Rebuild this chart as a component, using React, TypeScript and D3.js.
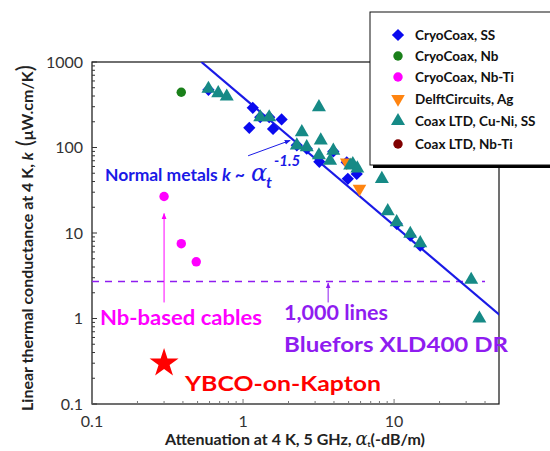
import { useEffect, useRef } from 'react';
import * as d3 from 'd3';

// CryoCoax, SS
const ssAtt = [0.59, 1.1, 1.16, 1.3, 1.49, 1.58, 1.8, 2.27, 2.64, 3.2, 3.96, 4.86, 4.94, 5.66, 10.4, 12.8, 14.9];
const ssK = [473, 170, 291, 226, 226, 165, 213, 106, 97, 68, 90, 67, 43, 49, 12.8, 9.3, 7.1];
// CryoCoax, Nb
const nbAtt = [0.39];
const nbK = [443];
// CryoCoax, Nb-Ti
const nbtiAtt = [0.3, 0.39, 0.49];
const nbtiK = [26.7, 7.5, 4.6];
// DelftCircuits, Ag
const agAtt = [4.86, 5.9];
const agK = [67, 33];
// Coax LTD, Cu-Ni, SS
const cuniAtt = [0.59, 0.685, 0.78, 1.3, 1.49, 2.45, 2.27, 2.64, 3.18, 3.27, 3.18, 3.77, 3.96, 5.12, 5.33, 5.71, 8.3, 9.08, 10.4, 12.8, 14.9, 32.4, 36.7];
const cuniK = [486, 432, 395, 226, 226, 151, 106, 101, 296, 121, 81, 70, 92, 61.5, 64, 57, 43, 18, 13.4, 9.8, 7.6, 2.84, 1.0];
// Coax LTD, Nb-Ti
const ltdNbtiAtt: number[] = [];
const ltdNbtiK: number[] = [];
// YBCO-on-Kapton
const ybcoAtt = [0.3];
const ybcoK = [0.3];
// normal metals k ~ a^-1.5 (end points)
const fitAtt = [0.53, 50];
const fitK = [1000, 1.1];
// 1,000 lines Bluefors limit
const limitAtt = [0.1, 40];
const limitK = [2.7, 2.7];

const xTicks = [0.1, 1, 10];
const yTicks = [0.1, 1, 10, 100, 1000];
const legendLabels = ['CryoCoax, SS', 'CryoCoax, Nb', 'CryoCoax, Nb-Ti', 'DelftCircuits, Ag', 'Coax LTD, Cu-Ni, SS', 'Coax LTD, Nb-Ti'];

const FONT = 'Lato, "Open Sans", sans-serif';

export default function App() {
  const svgRef = useRef<SVGSVGElement>(null);

  useEffect(() => {
    if (!svgRef.current) return;
    const svg = d3.select(svgRef.current);
    svg.selectAll('*').remove();

    const left = 92, right = 499, top = 62, bottom = 404;
    const x = d3.scaleLog().domain([0.1, 49.5]).range([left, right]);
    const y = d3.scaleLog().domain([0.1, 1000]).range([bottom, top]);

    const defs = svg.append('defs');
    defs.append('clipPath').attr('id', 'plot-clip')
      .append('rect').attr('x', left).attr('y', top).attr('width', right - left).attr('height', bottom - top);
    const mk = (id: string, color: string) => {
      defs.append('marker').attr('id', id)
        .attr('viewBox', '0 0 10 10').attr('refX', 9).attr('refY', 5)
        .attr('markerWidth', 6).attr('markerHeight', 6).attr('orient', 'auto')
        .append('path').attr('d', 'M0,1 L10,5 L0,9 Z').attr('fill', color);
    };
    mk('arr-blue', '#1a1ae6');
    mk('arr-mag', '#ff00ff');
    mk('arr-pur', '#8f1cf0');

    // frame
    svg.append('rect').attr('x', left).attr('y', top).attr('width', right - left).attr('height', bottom - top)
      .attr('fill', 'none').attr('stroke', '#111').attr('stroke-width', 1.2);

    // y ticks (inward)
    const yMinor = y.ticks().filter(v => !yTicks.some(t => Math.abs(t - v) < 1e-9));
    svg.append('g').selectAll('line').data(yMinor).enter().append('line')
      .attr('x1', left).attr('x2', left + 3).attr('y1', d => y(d)).attr('y2', d => y(d))
      .attr('stroke', '#333').attr('stroke-width', 1);
    svg.append('g').selectAll('line').data(yTicks).enter().append('line')
      .attr('x1', left).attr('x2', left + 5).attr('y1', d => y(d)).attr('y2', d => y(d))
      .attr('stroke', '#333').attr('stroke-width', 1);
    svg.append('g').selectAll('text').data(yTicks).enter().append('text')
      .attr('x', left - 9).attr('y', d => y(d)).attr('dy', '0.35em')
      .attr('text-anchor', 'end').attr('font-family', FONT).attr('font-size', 16).attr('fill', '#333')
      .text(d => String(d));

    // x ticks (inward)
    const xMinor = x.ticks().filter(v => !xTicks.some(t => Math.abs(t - v) < 1e-9));
    svg.append('g').selectAll('line').data(xMinor).enter().append('line')
      .attr('x1', d => x(d)).attr('x2', d => x(d)).attr('y1', bottom).attr('y2', bottom - 3)
      .attr('stroke', '#777').attr('stroke-width', 1);
    svg.append('g').selectAll('line').data(xTicks).enter().append('line')
      .attr('x1', d => x(d)).attr('x2', d => x(d)).attr('y1', bottom).attr('y2', bottom - 5)
      .attr('stroke', '#777').attr('stroke-width', 1);
    svg.append('g').selectAll('text').data(xTicks).enter().append('text')
      .attr('x', d => x(d)).attr('y', bottom + 23)
      .attr('text-anchor', 'middle').attr('font-family', FONT).attr('font-size', 16).attr('fill', '#333')
      .text(d => String(d));

    const plot = svg.append('g').attr('clip-path', 'url(#plot-clip)');

    // limit line
    plot.append('line')
      .attr('x1', x(limitAtt[0])).attr('x2', x(limitAtt[1]))
      .attr('y1', y(limitK[0])).attr('y2', y(limitK[1]))
      .attr('stroke', '#8f1cf0').attr('stroke-width', 1.5).attr('stroke-dasharray', '7,6');

    // fit line
    plot.append('line')
      .attr('x1', x(fitAtt[0])).attr('x2', x(fitAtt[1]))
      .attr('y1', y(fitK[0])).attr('y2', y(fitK[1]))
      .attr('stroke', '#1a1ae6').attr('stroke-width', 2.2);

    const sym = (type: d3.SymbolType, size: number) => d3.symbol().type(type).size(size)();
    const series = [
      { att: ssAtt, k: ssK, path: sym(d3.symbolSquare, 75), rot: 45, color: '#0a0aef' },
      { att: nbAtt, k: nbK, path: sym(d3.symbolCircle, 70), rot: 0, color: '#1a801a' },
      { att: nbtiAtt, k: nbtiK, path: sym(d3.symbolCircle, 70), rot: 0, color: '#ff00ff' },
      { att: agAtt, k: agK, path: sym(d3.symbolTriangle, 80), rot: 180, color: '#ff8410' },
      { att: cuniAtt, k: cuniK, path: sym(d3.symbolTriangle, 85), rot: 0, color: '#168a86' },
      { att: ltdNbtiAtt, k: ltdNbtiK, path: sym(d3.symbolCircle, 70), rot: 0, color: '#800000' },
    ];

    series.forEach(s => {
      plot.append('g').selectAll('path').data(s.att.map((a, i) => [a, s.k[i]])).enter().append('path')
        .attr('d', s.path)
        .attr('transform', d => `translate(${x(d[0])},${y(d[1])}) rotate(${s.rot})`)
        .attr('fill', s.color);
    });

    // YBCO star
    plot.append('g').selectAll('path').data(ybcoAtt.map((a, i) => [a, ybcoK[i]])).enter().append('path')
      .attr('d', sym(d3.symbolStar, 260))
      .attr('transform', d => `translate(${x(d[0])},${y(d[1])})`)
      .attr('fill', '#ff0000');

    // annotations
    svg.append('line')
      .attr('x1', x(1.08)).attr('y1', y(80)).attr('x2', x(2.05)).attr('y2', y(121))
      .attr('stroke', '#1a1ae6').attr('stroke-width', 1).attr('marker-end', 'url(#arr-blue)');
    svg.append('line')
      .attr('x1', x(0.3)).attr('y1', y(1.54)).attr('x2', x(0.3)).attr('y2', y(16.9))
      .attr('stroke', '#ff00ff').attr('stroke-width', 1).attr('marker-end', 'url(#arr-mag)');
    svg.append('line')
      .attr('x1', x(3.66)).attr('y1', y(1.54)).attr('x2', x(3.66)).attr('y2', y(2.6))
      .attr('stroke', '#8f1cf0').attr('stroke-width', 1).attr('marker-end', 'url(#arr-pur)');

    const nm = svg.append('text').attr('x', 105).attr('y', 181)
      .attr('font-family', FONT).attr('font-weight', 700).attr('font-size', 17.5).attr('fill', '#1a1ae6')
      .attr('textLength', 140).attr('lengthAdjust', 'spacing');
    nm.append('tspan').text('Normal metals ');
    nm.append('tspan').attr('font-style', 'italic').text('k');
    nm.append('tspan').text(' ~');
    svg.append('text').attr('x', 251).attr('y', 181)
      .attr('font-family', '"DejaVu Serif", serif').attr('font-style', 'italic').attr('font-size', 24).attr('fill', '#1a1ae6').text('α');
    svg.append('text').attr('x', 266).attr('y', 188)
      .attr('font-family', FONT).attr('font-weight', 700).attr('font-style', 'italic').attr('font-size', 16).attr('fill', '#1a1ae6').text('t');
    svg.append('text').attr('x', 274).attr('y', 166)
      .attr('font-family', FONT).attr('font-weight', 700).attr('font-style', 'italic').attr('font-size', 15).attr('fill', '#1a1ae6').text('-1.5');

    const note = (xp: number, yp: number, txt: string, color: string, len: number) =>
      svg.append('text').attr('x', xp).attr('y', yp)
        .attr('font-family', FONT).attr('font-weight', 700).attr('font-size', 21).attr('fill', color)
        .attr('textLength', len).attr('lengthAdjust', 'spacingAndGlyphs').text(txt);
    note(100, 325, 'Nb-based cables', '#ff00ff', 162);
    note(284, 320, '1,000 lines', '#8f1cf0', 104);
    note(284, 352, 'Bluefors XLD400 DR', '#8f1cf0', 224);
    note(185, 391, 'YBCO-on-Kapton', '#ff0000', 196);

    // axis titles
    const xt = svg.append('text').attr('x', 295).attr('y', 445).attr('text-anchor', 'middle')
      .attr('font-family', FONT).attr('font-weight', 700).attr('font-size', 16).attr('fill', '#222');
    xt.append('tspan').text('Attenuation at 4 K, 5 GHz, ');
    xt.append('tspan').attr('font-family', '"DejaVu Serif", serif').attr('font-style', 'italic').attr('font-weight', 400).attr('font-size', 18).text('α');
    xt.append('tspan').attr('font-size', 8).attr('dy', 2).text('t');
    xt.append('tspan').attr('dy', -2).text('(-dB/m)');

    const yt = svg.append('text').attr('transform', 'translate(33,238) rotate(-90)').attr('text-anchor', 'middle')
      .attr('font-family', FONT).attr('font-weight', 700).attr('font-size', 16).attr('fill', '#222');
    yt.append('tspan').text('Linear thermal conductance at 4 K, ');
    yt.append('tspan').attr('font-style', 'italic').text('k');
    yt.append('tspan').attr('font-size', 23).attr('font-weight', 400).text(' (');
    yt.append('tspan').text('μW.cm/K');
    yt.append('tspan').attr('font-size', 23).attr('font-weight', 400).text(')');

    // legend
    const lx = 370, ly = 12, lw = 190, lh = 153;
    svg.append('rect').attr('x', lx + 3).attr('y', ly + 3).attr('width', lw).attr('height', lh).attr('fill', '#000');
    svg.append('rect').attr('x', lx).attr('y', ly).attr('width', lw).attr('height', lh)
      .attr('fill', '#fff').attr('stroke', '#111').attr('stroke-width', 1);
    const rows = [35, 56, 77, 99, 121, 144];
    series.forEach((s, i) => {
      svg.append('path').attr('d', s.path)
        .attr('transform', `translate(398,${rows[i]}) rotate(${s.rot})`).attr('fill', s.color);
      svg.append('text').attr('x', 415).attr('y', rows[i]).attr('dy', '0.35em')
        .attr('font-family', FONT).attr('font-weight', 700).attr('font-size', 13.5).attr('fill', '#111')
        .text(legendLabels[i]);
    });
  }, []);

  return <svg ref={svgRef} width={550} height={451} style={{ position: 'absolute', left: 0, top: 0, background: '#fff' }} />;
}
